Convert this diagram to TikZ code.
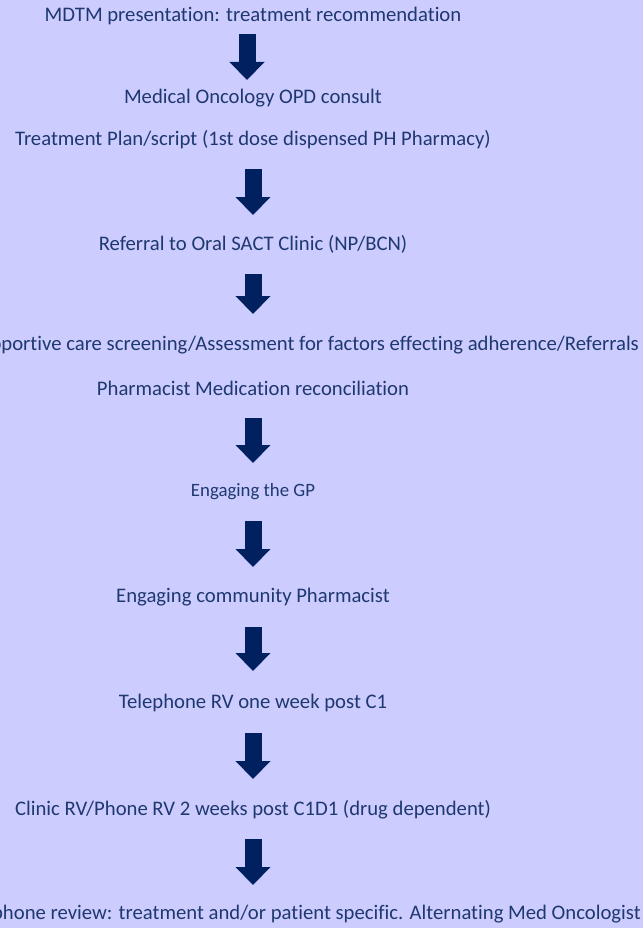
\documentclass[tikz,border=0pt]{standalone}
\usepackage{fontspec}
\setmainfont[Ligatures=NoCommon]{Carlito}
\usetikzlibrary{arrows.meta}
\definecolor{bg}{HTML}{CCCCFF}
\definecolor{txt}{HTML}{1F3870}
\definecolor{arr}{HTML}{002060}
\begin{document}
\begin{tikzpicture}[x=1pt,y=-1pt,
  lbl/.style={text=txt,font=\fontsize{20.7}{24}\selectfont,inner sep=0pt},
  small/.style={lbl,font=\fontsize{18.8}{22}\selectfont},
  blockarrow/.style={draw=arr,line width=17pt,-{Triangle[width=34pt,length=18pt]}}]
\useasboundingbox (0,0) rectangle (643,928);
\clip (0,0) rectangle (643,928);
\fill[bg] (0,0) rectangle (643,928);
\node[lbl] (t1) at (253,16) {MDTM presentation: treatment recommendation};
\node[lbl] (t2) at (253,98) {Medical Oncology OPD consult};
\node[lbl] (t3) at (253,140) {Treatment Plan/script (1st dose dispensed PH Pharmacy)};
\node[lbl] (t4) at (253,244) {Referral to Oral SACT Clinic (NP/BCN)};
\node[lbl,anchor=east] (t5) at (639,345) {Supportive care screening/Assessment for factors effecting adherence/Referrals};
\node[lbl] (t6) at (253,388) {Pharmacist Medication reconciliation};
\node[small] (t7) at (253,492) {Engaging the GP};
\node[lbl] (t8) at (253,597) {Engaging community Pharmacist};
\node[lbl] (t9) at (253,703) {Telephone RV one week post C1};
\node[lbl] (t10) at (253,810) {Clinic RV/Phone RV 2 weeks post C1D1 (drug dependent)};
\node[lbl,anchor=east] (t11) at (641,914) {Telephone review: treatment and/or patient specific. Alternating Med Oncologist};
\coordinate (a1s) at (247,34);  \coordinate (a1e) at (247,80);
\coordinate (a2s) at (253,169); \coordinate (a2e) at (253,215);
\coordinate (a3s) at (253,274); \coordinate (a3e) at (253,314);
\coordinate (a4s) at (253,418); \coordinate (a4e) at (253,463);
\coordinate (a5s) at (253,521); \coordinate (a5e) at (253,567);
\coordinate (a6s) at (253,627); \coordinate (a6e) at (253,671);
\coordinate (a7s) at (253,733); \coordinate (a7e) at (253,779);
\coordinate (a8s) at (253,839); \coordinate (a8e) at (253,885);
\foreach \i in {1,...,8} {\draw[blockarrow] (a\i s) -- (a\i e);}
\end{tikzpicture}
\end{document}
